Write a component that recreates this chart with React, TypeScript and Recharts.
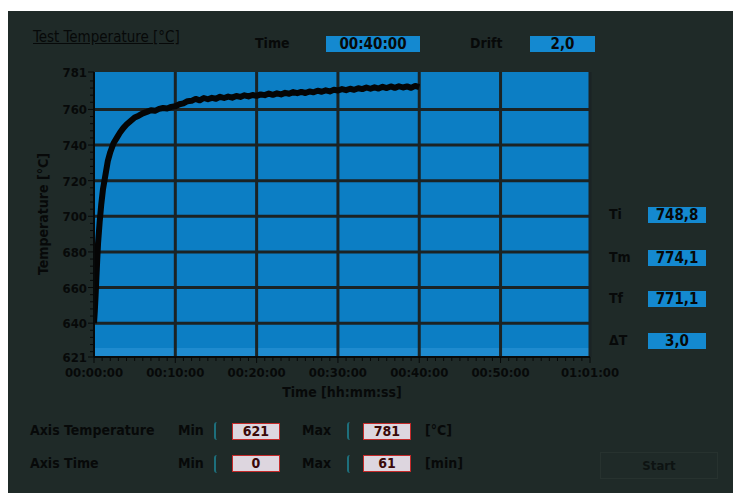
import { LineChart, Line, XAxis, YAxis, ReferenceLine, ReferenceArea } from 'recharts';

const minutes = [
  0, 0.1, 0.2, 0.3, 0.4, 0.5, 0.7, 0.9, 1.1, 1.4, 1.7, 2.0, 2.4, 2.8, 3.2, 3.6, 4.0, 4.5, 5.0, 5.5,
  6.0, 6.5, 7.0, 7.5, 8.0, 8.5, 9.0, 9.5, 10.0, 10.5, 11, 11.5, 12, 12.5, 13, 13.5, 14, 14.5, 15, 15.5,
  16, 16.5, 17, 17.5, 18, 18.5, 19, 19.5, 20, 20.5, 21, 21.5, 22, 22.5, 23, 23.5, 24, 24.5, 25, 25.5,
  26, 26.5, 27, 27.5, 28, 28.5, 29, 29.5, 30, 30.5, 31, 31.5, 32, 32.5, 33, 33.5, 34, 34.5, 35, 35.5,
  36, 36.5, 37, 37.5, 38, 38.5, 39, 39.5, 40,
];

const temperatures = [
  640, 647, 656, 666, 676, 685, 697, 707, 715, 723, 731, 736, 741, 744, 747, 749.5, 751.5, 753.5, 755.5, 756.5,
  757.8, 758.6, 759.5, 759.2, 760.3, 760.8, 760.5, 761.4, 761.8, 762.9, 763.4, 764.6, 764.8, 765.9, 765.1, 766.4, 765.7, 766.5, 766.0, 767.1,
  766.4, 767.2, 766.6, 767.5, 767.0, 767.9, 767.3, 768.1, 767.6, 768.4, 768.0, 768.9, 768.2, 769.0, 768.4, 769.3, 768.8, 769.7, 769.1, 769.8,
  769.2, 770.1, 769.6, 770.5, 769.9, 770.7, 770.1, 771.0, 770.6, 771.4, 770.8, 771.6, 771.0, 771.9, 771.4, 772.3, 771.6, 772.4, 771.7, 772.7,
  772.0, 772.9, 772.1, 773.0, 772.3, 772.9, 772.1, 773.2, 772.5,
];

const majorTempTicks = [621, 640, 660, 680, 700, 720, 740, 760, 781];
const minorTempTicks = [624, 628, 632, 636, 644, 648, 652, 656, 664, 668, 672, 676, 684, 688, 692, 696, 704, 708, 712, 716, 724, 728, 732, 736, 744, 748, 752, 756, 764, 768, 772, 776];
const majorTimeTicks = [0, 10, 20, 30, 40, 50, 61];
const minorTimeTicks = [1, 2, 3, 4, 5, 6, 7, 8, 9, 11, 12, 13, 14, 15, 16, 17, 18, 19, 21, 22, 23, 24, 25, 26, 27, 28, 29, 31, 32, 33, 34, 35, 36, 37, 38, 39, 41, 42, 43, 44, 45, 46, 47, 48, 49, 51, 52, 53, 54, 55, 56, 57, 58, 59, 60];
const gridTemps = [640, 660, 680, 700, 720, 740, 760];
const gridMinutes = [10, 20, 30, 40, 50, 61];

const indicators = [
  { label: 'Ti', value: '748,8' },
  { label: 'Tm', value: '774,1' },
  { label: 'Tf', value: '771,1' },
  { label: '\u0394T', value: '3,0' },
];

const data = minutes.map((m, i) => ({ t: m, temp: temperatures[i] }));

const FONT = '"DejaVu Sans Condensed", "DejaVu Sans", sans-serif';
const INK = '#070909';
const PANEL = '#1f2a28';
const PLOT_BLUE = '#0c7ec4';
const GRID = '#1b2324';

const fmtTime = (m: number) => {
  const h = Math.floor(m / 60);
  const mm = m % 60;
  const p = (n: number) => String(n).padStart(2, '0');
  return `${p(h)}:${p(mm)}:00`;
};

const XTick = (props: any) => {
  const { x, y, payload } = props;
  const major = majorTimeTicks.includes(payload.value);
  return (
    <g>
      <line x1={x} x2={x} y1={y} y2={y + (major ? 6 : 4)} stroke={INK} strokeWidth={1} />
      {major && (
        <text x={x} y={y + 20} textAnchor="middle" fill={INK} fontSize={13} fontWeight="bold" fontFamily={FONT}>
          {fmtTime(payload.value)}
        </text>
      )}
    </g>
  );
};

const YTick = (props: any) => {
  const { x, y, payload } = props;
  const major = majorTempTicks.includes(payload.value);
  return (
    <g>
      <line x1={x - (major ? 6 : 4)} x2={x} y1={y} y2={y} stroke={INK} strokeWidth={1} />
      {major && (
        <text x={x - 7} y={y + 5} textAnchor="end" fill={INK} fontSize={13} fontWeight="bold" fontFamily={FONT}>
          {payload.value}
        </text>
      )}
    </g>
  );
};

const txt = (s: string, left: number, top: number, extra: any = {}) => (
  <div style={{ position: 'absolute', left, top, fontFamily: FONT, fontSize: 14, color: INK, whiteSpace: 'nowrap', ...extra }}>{s}</div>
);

const blueBox = (s: string, left: number, top: number, w: number, h: number) => (
  <div
    style={{
      position: 'absolute', left, top, width: w, height: h, background: '#1489d0',
      color: INK, fontFamily: FONT, fontWeight: 'bold', fontSize: 15, lineHeight: `${h}px`, textAlign: 'center',
    }}
  >
    {s}
  </div>
);

const redBox = (s: string, left: number, top: number) => (
  <div
    style={{
      position: 'absolute', left, top, width: 46, height: 15, background: '#ddd6df', border: '1px solid #c42a2a',
      color: '#3a0808', fontFamily: FONT, fontWeight: 'bold', fontSize: 14, lineHeight: '15px', textAlign: 'center',
    }}
  >
    {s}
  </div>
);

const spinner = (left: number, top: number) => (
  <div style={{ position: 'absolute', left, top, width: 5, height: 18, borderLeft: '2px solid #1d6f7c', borderRadius: 3 }} />
);

export default function App() {
  return (
    <div style={{ position: 'absolute', left: 0, top: 0, width: 733, height: 493, background: '#fff', overflow: 'hidden' }}>
      <div style={{ position: 'absolute', left: 8, top: 11, width: 725, height: 482, background: PANEL }} />

      {txt('Test Temperature [\u00b0C]', 33, 28, { textDecoration: 'underline', fontSize: 15 })}
      {txt('Time', 255, 35, { fontWeight: 'bold' })}
      {blueBox('00:40:00', 326, 36, 94, 16)}
      {txt('Drift', 470, 35, { fontWeight: 'bold' })}
      {blueBox('2,0', 530, 36, 65, 16)}

      {indicators.map((d, i) => {
        const cy = [215, 258, 299, 341][i];
        return (
          <div key={d.label}>
            {txt(d.label, 609, cy - 9, { fontWeight: 'bold' })}
            {blueBox(d.value, 648, cy - 8, 58, 16)}
          </div>
        );
      })}

      <div style={{ position: 'absolute', left: 0, top: 0 }}>
        <LineChart width={733} height={493} data={data} margin={{ top: 72, right: 143, bottom: 96, left: 34 }}>
          <XAxis
            dataKey="t"
            type="number"
            domain={[0, 61]}
            ticks={[...majorTimeTicks, ...minorTimeTicks].sort((a, b) => a - b)}
            interval={0}
            tickSize={0}
            tickMargin={0}
            tickLine={false}
            tick={<XTick />}
            axisLine={{ stroke: INK, strokeWidth: 2 }}
            height={40}
            allowDataOverflow
          />
          <YAxis
            type="number"
            domain={[621, 781]}
            ticks={[...majorTempTicks, ...minorTempTicks].sort((a, b) => a - b)}
            interval={0}
            tickSize={0}
            tickMargin={0}
            tickLine={false}
            tick={<YTick />}
            axisLine={{ stroke: INK, strokeWidth: 2 }}
            width={60}
            allowDataOverflow
          />
          <ReferenceArea x1={0} x2={61} y1={621} y2={781} fill={PLOT_BLUE} fillOpacity={1} stroke="none" />
          <ReferenceArea x1={0} x2={61} y1={621} y2={626} fill="#1f8bcf" fillOpacity={1} stroke="none" />
          {gridTemps.map((v) => (
            <ReferenceLine key={`h${v}`} y={v} stroke={GRID} strokeWidth={3} />
          ))}
          {gridMinutes.map((v) => (
            <ReferenceLine key={`v${v}`} x={v} stroke={GRID} strokeWidth={3} />
          ))}
          <Line
            type="linear"
            dataKey="temp"
            stroke="#050505"
            strokeWidth={6}
            dot={false}
            strokeLinejoin="round"
            isAnimationActive={false}
          />
        </LineChart>
      </div>

      {txt('Time [hh:mm:ss]', 0, 384, { width: 684, textAlign: 'center', fontSize: 14, fontWeight: 'bold' })}
      <div
        style={{
          position: 'absolute', left: 43, top: 214, transform: 'translate(-50%, -50%) rotate(-90deg)',
          fontFamily: FONT, fontSize: 14, fontWeight: 'bold', color: INK, whiteSpace: 'nowrap',
        }}
      >
        {'Temperature [\u00b0C]'}
      </div>

      {txt('Axis Temperature', 30, 422, { fontWeight: 'bold' })}
      {txt('Min', 178, 422, { fontWeight: 'bold' })}
      {spinner(214, 422)}
      {redBox('621', 232, 423)}
      {txt('Max', 302, 422, { fontWeight: 'bold' })}
      {spinner(347, 422)}
      {redBox('781', 363, 423)}
      {txt('[\u00b0C]', 425, 422, { fontWeight: 'bold' })}

      {txt('Axis Time', 30, 455, { fontWeight: 'bold' })}
      {txt('Min', 178, 455, { fontWeight: 'bold' })}
      {spinner(214, 455)}
      {redBox('0', 232, 455)}
      {txt('Max', 302, 455, { fontWeight: 'bold' })}
      {spinner(347, 455)}
      {redBox('61', 363, 455)}
      {txt('[min]', 425, 455, { fontWeight: 'bold' })}

      <div
        style={{
          position: 'absolute', left: 600, top: 452, width: 116, height: 25, border: '1px solid #27322f',
          color: '#0d1312', fontFamily: FONT, fontSize: 13, fontWeight: 'bold', lineHeight: '25px', textAlign: 'center',
        }}
      >
        Start
      </div>
    </div>
  );
}
